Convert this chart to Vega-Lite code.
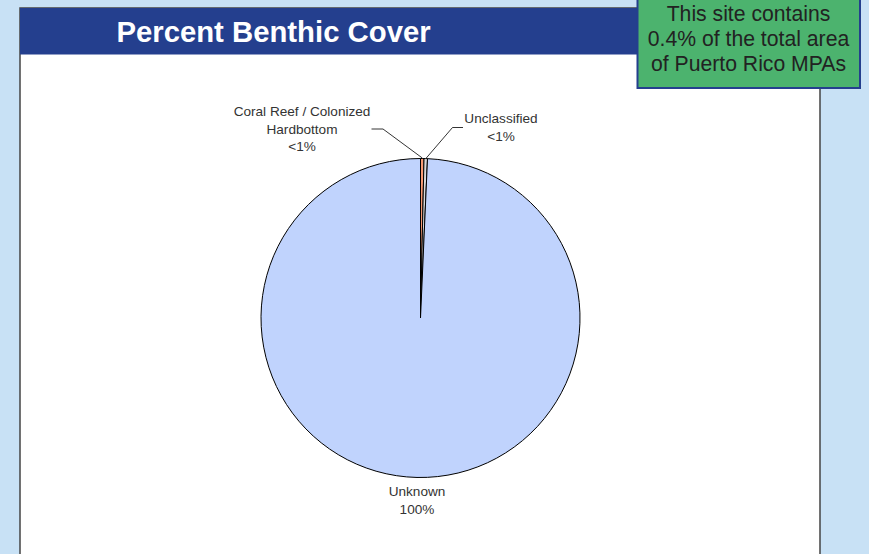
{
  "$schema": "https://vega.github.io/schema/vega-lite/v6.json",
  "width": 869,
  "height": 554,
  "padding": 0,
  "autosize": {"type": "none"},
  "background": "#c8e1f5",
  "config": {"view": {"stroke": null}, "font": "Liberation Sans"},
  "datasets": {
    "cover": [
      {"category": "Coral Reef / Colonized Hardbottom", "percent": 0.35},
      {"category": "Unclassified", "percent": 0.35},
      {"category": "Unknown", "percent": 99.3}
    ],
    "one": [{}]
  },
  "layer": [
    {
      "data": {"name": "one"},
      "mark": {"type": "rect", "fill": "white", "stroke": "#444444", "strokeWidth": 1.5},
      "encoding": {
        "x": {"datum": 20, "type": "quantitative", "scale": {"domain": [0, 869], "nice": false, "zero": false}, "axis": null},
        "x2": {"datum": 820},
        "y": {"datum": 8, "type": "quantitative", "scale": {"domain": [0, 554], "nice": false, "zero": false, "reverse": true}, "axis": null},
        "y2": {"datum": 560}
      }
    },
    {
      "data": {"name": "one"},
      "mark": {"type": "rect", "fill": "#243f8e"},
      "encoding": {
        "x": {"datum": 20, "type": "quantitative", "scale": {"domain": [0, 869], "nice": false, "zero": false}, "axis": null},
        "x2": {"datum": 821},
        "y": {"datum": 8, "type": "quantitative", "scale": {"domain": [0, 554], "nice": false, "zero": false, "reverse": true}, "axis": null},
        "y2": {"datum": 54.5}
      }
    },
    {
      "data": {"name": "one"},
      "mark": {"type": "text", "text": "Percent Benthic Cover", "color": "white", "fontSize": 29.3, "fontWeight": "bold", "align": "center", "baseline": "middle", "font": "Liberation Sans"},
      "encoding": {
        "x": {"datum": 273.5, "type": "quantitative", "scale": {"domain": [0, 869], "nice": false, "zero": false}, "axis": null},
        "y": {"datum": 32.5, "type": "quantitative", "scale": {"domain": [0, 554], "nice": false, "zero": false, "reverse": true}, "axis": null}
      }
    },
    {
      "data": {"name": "one"},
      "mark": {"type": "rect", "fill": "#4cb36e", "stroke": "#243f8e", "strokeWidth": 2},
      "encoding": {
        "x": {"datum": 637.5, "type": "quantitative", "scale": {"domain": [0, 869], "nice": false, "zero": false}, "axis": null},
        "x2": {"datum": 860},
        "y": {"datum": -4, "type": "quantitative", "scale": {"domain": [0, 554], "nice": false, "zero": false, "reverse": true}, "axis": null},
        "y2": {"datum": 88}
      }
    },
    {
      "data": {"name": "one"},
      "mark": {"type": "text", "text": ["This site contains", "0.4% of the total area", "of Puerto Rico MPAs"], "color": "#222222", "fontSize": 21.2, "lineHeight": 25, "align": "center", "baseline": "middle", "font": "Liberation Sans"},
      "encoding": {
        "x": {"datum": 748.5, "type": "quantitative", "scale": {"domain": [0, 869], "nice": false, "zero": false}, "axis": null},
        "y": {"datum": 14.5, "type": "quantitative", "scale": {"domain": [0, 554], "nice": false, "zero": false, "reverse": true}, "axis": null}
      }
    },
    {
      "data": {"name": "cover"},
      "mark": {"type": "arc", "outerRadius": 159.5, "stroke": "#000000", "strokeWidth": 1},
      "encoding": {
        "x": {"datum": 420.5, "type": "quantitative", "scale": {"domain": [0, 869], "nice": false, "zero": false}, "axis": null},
        "y": {"datum": 318, "type": "quantitative", "scale": {"domain": [0, 554], "nice": false, "zero": false, "reverse": true}, "axis": null},
        "theta": {"field": "percent", "type": "quantitative", "stack": true},
        "color": {"field": "category", "type": "nominal", "legend": null,
          "scale": {"domain": ["Coral Reef / Colonized Hardbottom", "Unclassified", "Unknown"], "range": ["#f79a73", "#d9d9d9", "#c0d3fd"]}},
        "order": {"field": "category", "sort": "ascending"}
      }
    },
    {
      "data": {"name": "one"},
      "mark": {"type": "rule", "color": "#000000", "strokeWidth": 0.8},
      "encoding": {
        "x": {"datum": 371.5, "type": "quantitative", "scale": {"domain": [0, 869], "nice": false, "zero": false}, "axis": null},
        "x2": {"datum": 383},
        "y": {"datum": 129, "type": "quantitative", "scale": {"domain": [0, 554], "nice": false, "zero": false, "reverse": true}, "axis": null},
        "y2": {"datum": 129}
      }
    },
    {
      "data": {"name": "one"},
      "mark": {"type": "rule", "color": "#000000", "strokeWidth": 0.8},
      "encoding": {
        "x": {"datum": 383, "type": "quantitative", "scale": {"domain": [0, 869], "nice": false, "zero": false}, "axis": null},
        "x2": {"datum": 422.3},
        "y": {"datum": 129, "type": "quantitative", "scale": {"domain": [0, 554], "nice": false, "zero": false, "reverse": true}, "axis": null},
        "y2": {"datum": 158}
      }
    },
    {
      "data": {"name": "one"},
      "mark": {"type": "rule", "color": "#000000", "strokeWidth": 0.8},
      "encoding": {
        "x": {"datum": 452.5, "type": "quantitative", "scale": {"domain": [0, 869], "nice": false, "zero": false}, "axis": null},
        "x2": {"datum": 463},
        "y": {"datum": 127.5, "type": "quantitative", "scale": {"domain": [0, 554], "nice": false, "zero": false, "reverse": true}, "axis": null},
        "y2": {"datum": 127.5}
      }
    },
    {
      "data": {"name": "one"},
      "mark": {"type": "rule", "color": "#000000", "strokeWidth": 0.8},
      "encoding": {
        "x": {"datum": 452.5, "type": "quantitative", "scale": {"domain": [0, 869], "nice": false, "zero": false}, "axis": null},
        "x2": {"datum": 426.3},
        "y": {"datum": 127.5, "type": "quantitative", "scale": {"domain": [0, 554], "nice": false, "zero": false, "reverse": true}, "axis": null},
        "y2": {"datum": 158}
      }
    },
    {
      "data": {"name": "one"},
      "mark": {"type": "text", "text": ["Coral Reef / Colonized", "Hardbottom", "<1%"], "color": "#333333", "fontSize": 13.6, "lineHeight": 17.5, "align": "center", "baseline": "middle", "font": "Liberation Sans"},
      "encoding": {
        "x": {"datum": 302, "type": "quantitative", "scale": {"domain": [0, 869], "nice": false, "zero": false}, "axis": null},
        "y": {"datum": 112, "type": "quantitative", "scale": {"domain": [0, 554], "nice": false, "zero": false, "reverse": true}, "axis": null}
      }
    },
    {
      "data": {"name": "one"},
      "mark": {"type": "text", "text": ["Unclassified", "<1%"], "color": "#333333", "fontSize": 13.6, "lineHeight": 17.5, "align": "center", "baseline": "middle", "font": "Liberation Sans"},
      "encoding": {
        "x": {"datum": 501, "type": "quantitative", "scale": {"domain": [0, 869], "nice": false, "zero": false}, "axis": null},
        "y": {"datum": 119, "type": "quantitative", "scale": {"domain": [0, 554], "nice": false, "zero": false, "reverse": true}, "axis": null}
      }
    },
    {
      "data": {"name": "one"},
      "mark": {"type": "text", "text": ["Unknown", "100%"], "color": "#333333", "fontSize": 13.6, "lineHeight": 17.5, "align": "center", "baseline": "middle", "font": "Liberation Sans"},
      "encoding": {
        "x": {"datum": 417, "type": "quantitative", "scale": {"domain": [0, 869], "nice": false, "zero": false}, "axis": null},
        "y": {"datum": 492, "type": "quantitative", "scale": {"domain": [0, 554], "nice": false, "zero": false, "reverse": true}, "axis": null}
      }
    }
  ]
}
